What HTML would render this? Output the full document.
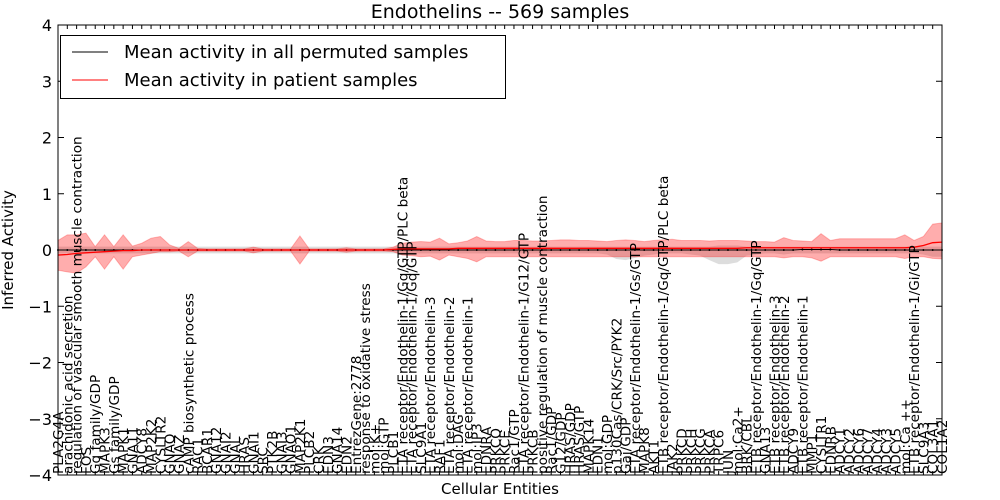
<!DOCTYPE html>
<html><head><meta charset="utf-8"><style>
body{margin:0;background:#fff;}
svg{display:block;font-family:"DejaVu Sans","Liberation Sans",sans-serif;}
</style></head><body>
<svg id="chart" width="1000" height="500">
<rect width="1000" height="500" fill="#fff"/>
<text x="500" y="18" font-size="19" text-anchor="middle">Endothelins -- 569 samples</text>
<text x="500" y="494" font-size="15" text-anchor="middle">Cellular Entities</text>
<text transform="translate(13,250) rotate(-90)" font-size="15" text-anchor="middle">Inferred Activity</text>
<g id="plot"></g>
</svg>
<script>
const labels = ["PLA2G4A","arachidonic acid secretion","regulation of vascular smooth muscle contraction","FOS","Gq family/GDP","MAPK3","Gs family/GDP","MAPK1","GNA11","ADCY8","MAP2K2","CYSLTR2","GNAQ","GNAZ","cAMP biosynthetic process","RAC1","BCAR1","GNA12","GNAI2","GNAL","HRAS","GNAI1","SRC","PTK2B","GNAI3","GNAO1","MAP2K1","PLCB2","CRK","EDN3","GNA14","EDN2","EntrezGene:2778","response to oxidative stress","mol:K+","mol:GTP","PLCB1","ETA receptor/Endothelin-1/Gq/GTP/PLC beta","ETA receptor/Endothelin-1/Gq/GTP","SLC9A1","ETA receptor/Endothelin-3","RAF1","ETA receptor/Endothelin-2","mol:DAG","ETA receptor/Endothelin-1","mol:IP3","EDNRA","PRKCQ","PRKCE","Rac1/GTP","ETA receptor/Endothelin-1/G12/GTP","PRKCB","positive regulation of muscle contraction","Rac1/GDP","G12/GDP","HRAS/GDP","HRAS/GTP","MAPK14","EDN1","mol:GDP","p130Cas/CRK/Src/PYK2","Gai/GDP","ETA receptor/Endothelin-1/Gs/GTP","MAPK8","AKT1","ETB receptor/Endothelin-1/Gq/GTP/PLC beta","JAK2","PRKCD","PRKCH","PRKCG","PRKCA","TRPC6","JUN","mol:Ca2+","BRK/CBL","ETB receptor/Endothelin-1/Gq/GTP","GNA13","ETB receptor/Endothelin-3","ETB receptor/Endothelin-2","ADCY9","ETB receptor/Endothelin-1","MMP1","CYSLTR1","EDNRB","ADCY1","ADCY2","ADCY6","ADCY7","ADCY4","ADCY3","ADCY5","mol:Ca ++","ETB receptor/Endothelin-1/Gi/GTP","SLC9A3","COL3A1","COL1A2"];
const redMean = [-0.09,-0.08,-0.06,-0.05,-0.04,-0.03,-0.02,-0.01,-0.01,0,0,0,0,0,0,0,0,0,0,0,0,0,0,0,0,0,0,0,0,0,0,0,0,0,0,0,0.01,0.02,0.02,0.02,0.02,0.02,0.02,0.03,0.03,0.03,0.03,0.03,0.03,0.03,0.03,0.03,0.03,0.03,0.03,0.03,0.03,0.03,0.03,0.03,0.03,0.03,0.03,0.03,0.03,0.03,0.03,0.03,0.03,0.03,0.03,0.03,0.03,0.03,0.04,0.04,0.04,0.04,0.04,0.04,0.04,0.04,0.04,0.04,0.04,0.04,0.04,0.04,0.04,0.04,0.04,0.04,0.05,0.08,0.13,0.14];
const redUp = [0.17,0.27,0.27,0.30,0.06,0.27,0.06,0.27,0.07,0.12,0.21,0.24,0.09,0.03,0.15,0.03,0.02,0.02,0.02,0.02,0.02,0.05,0.02,0.02,0.02,0.02,0.25,0.02,0.02,0.02,0.02,0.04,0.02,0.02,0.02,0.02,0.05,0.12,0.14,0.15,0.14,0.21,0.11,0.13,0.16,0.24,0.16,0.15,0.15,0.17,0.17,0.16,0.16,0.17,0.18,0.18,0.17,0.17,0.16,0.15,0.17,0.18,0.17,0.15,0.17,0.18,0.19,0.17,0.17,0.17,0.16,0.17,0.17,0.17,0.16,0.15,0.15,0.14,0.22,0.17,0.16,0.15,0.29,0.17,0.20,0.20,0.20,0.20,0.20,0.20,0.20,0.27,0.17,0.24,0.46,0.48];
const redLo = [-0.36,-0.39,-0.41,-0.30,-0.12,-0.34,-0.12,-0.34,-0.12,-0.09,-0.06,-0.03,-0.03,-0.02,-0.12,-0.02,-0.02,-0.02,-0.02,-0.02,-0.02,-0.05,-0.02,-0.02,-0.02,-0.02,-0.25,-0.02,-0.02,-0.02,-0.02,-0.04,-0.02,-0.02,-0.02,-0.02,-0.03,-0.09,-0.10,-0.12,-0.11,-0.18,-0.09,-0.12,-0.15,-0.21,-0.12,-0.12,-0.12,-0.12,-0.12,-0.12,-0.12,-0.12,-0.12,-0.12,-0.12,-0.12,-0.12,-0.12,-0.12,-0.12,-0.12,-0.12,-0.12,-0.12,-0.12,-0.12,-0.12,-0.12,-0.12,-0.12,-0.12,-0.12,-0.12,-0.12,-0.12,-0.12,-0.14,-0.12,-0.12,-0.14,-0.20,-0.12,-0.12,-0.12,-0.12,-0.12,-0.12,-0.12,-0.12,-0.15,-0.12,-0.12,-0.15,-0.16];
const blackMean = [0,0,0,0,0,0,0,0,0,0,0,0,0,0,0,0,0,0,0,0,0,0,0,0,0,0,0,0,0,0,0,0,0,0,0,0,0,0,0,0,0,0,0,0,0,0,0,0,0,0,0,0,0,0,0,0,0,0,0,0,0,0,0,0,0,0,0,0,0,0,0,0,0,0,0,0,0,0,0,0,0.01,0.01,0.01,0.01,0,0,0,0,0,0,0,0,0,0,0,0];
const grayUp = [0.06,0.06,0.06,0.06,0.06,0.06,0.06,0.06,0.06,0.06,0.06,0.06,0.06,0.06,0.06,0.06,0.06,0.06,0.06,0.06,0.06,0.06,0.06,0.06,0.06,0.06,0.06,0.06,0.06,0.06,0.06,0.06,0.06,0.06,0.06,0.06,0.06,0.06,0.06,0.06,0.06,0.06,0.06,0.06,0.06,0.06,0.06,0.06,0.06,0.06,0.06,0.06,0.06,0.06,0.06,0.06,0.06,0.06,0.06,0.06,0.06,0.06,0.06,0.06,0.06,0.06,0.06,0.06,0.06,0.06,0.06,0.08,0.08,0.08,0.06,0.06,0.06,0.06,0.06,0.06,0.06,0.06,0.06,0.06,0.06,0.06,0.06,0.06,0.06,0.06,0.06,0.06,0.06,0.06,0.06,0.06];
const grayLo = [-0.06,-0.06,-0.06,-0.06,-0.06,-0.06,-0.06,-0.06,-0.06,-0.06,-0.06,-0.06,-0.06,-0.06,-0.06,-0.06,-0.06,-0.06,-0.06,-0.06,-0.06,-0.06,-0.06,-0.06,-0.06,-0.06,-0.06,-0.06,-0.06,-0.06,-0.06,-0.06,-0.06,-0.06,-0.06,-0.06,-0.06,-0.06,-0.06,-0.06,-0.06,-0.06,-0.06,-0.06,-0.06,-0.06,-0.06,-0.06,-0.06,-0.06,-0.06,-0.06,-0.06,-0.06,-0.06,-0.06,-0.06,-0.06,-0.06,-0.08,-0.16,-0.18,-0.14,-0.10,-0.08,-0.06,-0.06,-0.06,-0.08,-0.10,-0.18,-0.25,-0.25,-0.22,-0.10,-0.08,-0.06,-0.06,-0.08,-0.06,-0.06,-0.06,-0.06,-0.06,-0.06,-0.06,-0.06,-0.06,-0.06,-0.06,-0.06,-0.06,-0.06,-0.08,-0.12,-0.12];
const yTicks = [-4,-3,-2,-1,0,1,2,3,4];

const L=58,R=942,T=25,B=475;
const xs=i=>L+(R-L)*i/(labels.length-1);
const ys=v=>B-(v+4)/8*(B-T);
const NS="http://www.w3.org/2000/svg";
const g=document.getElementById('plot');
function mk(tag,attrs){const e=document.createElementNS(NS,tag);for(const k in attrs)e.setAttribute(k,attrs[k]);g.appendChild(e);return e;}
function band(up,lo){let d='M'+up.map((v,i)=>xs(i)+','+ys(v)).join('L');for(let i=lo.length-1;i>=0;i--)d+='L'+xs(i)+','+ys(lo[i]);return d+'Z';}
function line(a){return 'M'+a.map((v,i)=>xs(i)+','+ys(v)).join('L');}

let e;
e=mk('path',{d:band(grayUp,grayLo),fill:'#bbbbbb','fill-opacity':'0.5',stroke:'none'});


e=mk('path',{d:band(redUp,redLo),fill:'#ff0000','fill-opacity':'0.32',stroke:'#ff0000','stroke-opacity':'0.25'});


e=mk('path',{d:line(blackMean),fill:'none',stroke:'#000','stroke-width':'1'});


blackMean.forEach((v,i)=>{const c=mk('circle',{cx:xs(i),cy:ys(v),r:1,fill:'#000'});

});
e=mk('path',{d:line(redMean),fill:'none',stroke:'#ff0000','stroke-width':'1.3'});



e=mk('rect',{x:L,y:T,width:R-L,height:B-T,fill:'none',stroke:'#000','stroke-width':'1'});



yTicks.forEach(t=>{const y=ys(t);
mk('line',{x1:L,x2:L+6,y1:y,y2:y,stroke:'#000'});
mk('line',{x1:R-6,x2:R,y1:y,y2:y,stroke:'#000'});
const tx=mk('text',{x:L-6,y:y+6,'font-size':'16','text-anchor':'end'});
tx.textContent=(t<0?'\u2212':'')+Math.abs(t);

});

labels.forEach((s,i)=>{const x=xs(i);
mk('line',{x1:x,x2:x,y1:B,y2:B-4,stroke:'#000'});
mk('line',{x1:x,x2:x,y1:T,y2:T+4,stroke:'#000'});
const tx=mk('text',{transform:'translate('+(x+5)+','+(B-1)+') rotate(-90)','font-size':'13.6'});
tx.textContent=s;

});

// legend
e=mk('rect',{x:60.5,y:35.5,width:445,height:63,fill:'#fff',stroke:'#000'});


mk('line',{x1:72,x2:108,y1:52,y2:52,stroke:'#000'});
e=mk('text',{x:124,y:58,'font-size':'18'});e.textContent='Mean activity in all permuted samples';


mk('line',{x1:72,x2:108,y1:80,y2:80,stroke:'#ff0000'});
e=mk('text',{x:124,y:86,'font-size':'18'});e.textContent='Mean activity in patient samples';


</script>
</body></html>
